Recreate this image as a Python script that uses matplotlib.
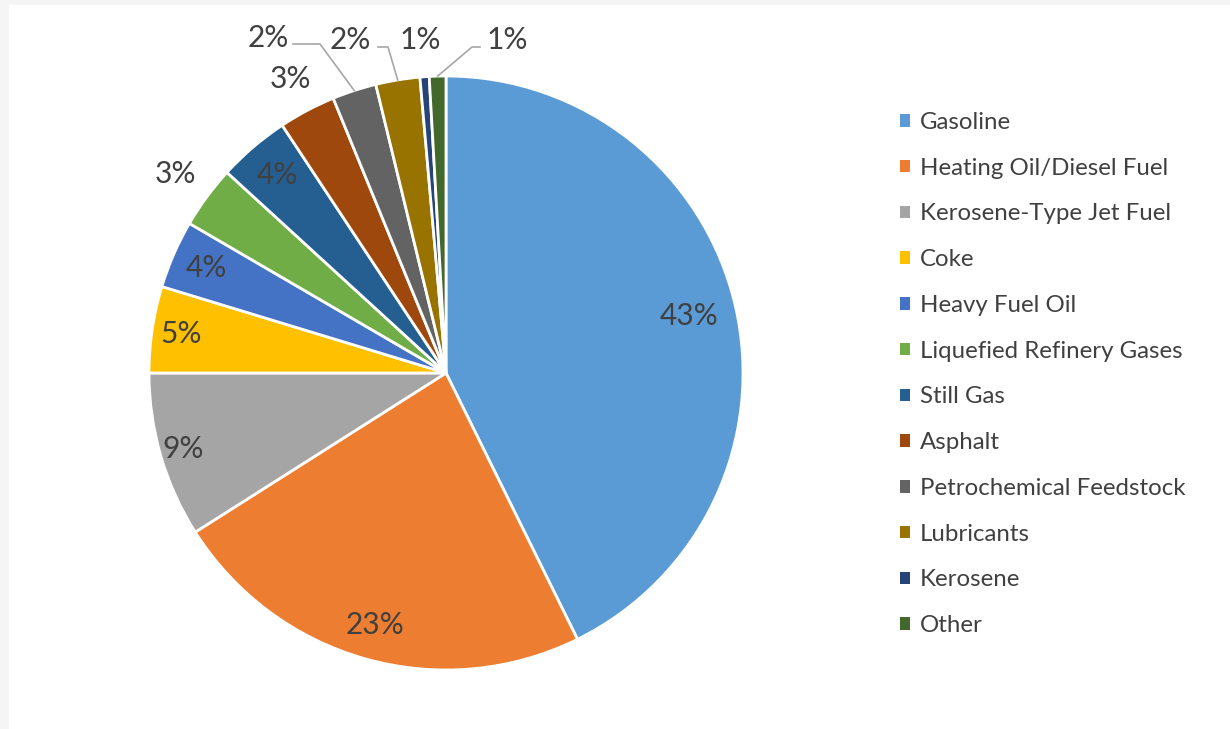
import numpy as np
import matplotlib.pyplot as plt
from matplotlib.patches import Rectangle

# refinery product shares (%)
products = ["Gasoline", "Heating Oil/Diesel Fuel", "Kerosene-Type Jet Fuel", "Coke",
            "Heavy Fuel Oil", "Liquefied Refinery Gases", "Still Gas", "Asphalt",
            "Petrochemical Feedstock", "Lubricants", "Kerosene", "Other"]
shares = [42.7, 23.3, 9.0, 4.7, 3.7, 3.4, 3.9, 3.1, 2.4, 2.4, 0.5, 0.9]
pct_labels = ["43%", "23%", "9%", "5%", "4%", "3%", "4%", "3%", "2%", "2%", "1%", "1%"]
colors = ["#5B9BD5", "#ED7D31", "#A5A5A5", "#FFC000", "#4472C4", "#70AD47",
          "#255E91", "#9E480E", "#636363", "#997300", "#264478", "#43682B"]

plt.rcParams['font.family'] = ['Lato', 'DejaVu Sans']
text_color = "#404040"
label_fs = 21.5

W, H = 1230, 729
fig = plt.figure(figsize=(W / 100, H / 100), dpi=100, facecolor="#F5F5F5")
ax = fig.add_axes([0, 0, 1, 1])
ax.add_patch(Rectangle((9, 0), W - 9, H - 5, facecolor="white", edgecolor="none", zorder=0))

cx, cy, R = 446, H - 373, 297
wedges, _ = ax.pie(shares, colors=colors, startangle=90, counterclock=False,
                   center=(cx, cy), radius=R, frame=True,
                   wedgeprops=dict(edgecolor="white", linewidth=2))
ax.set_xlim(0, W)
ax.set_ylim(0, H)
ax.set_aspect("equal")
ax.axis("off")

# label placement: inside (radial factor) or outside with leader (text position in px)
inside = {0: 0.84, 1: 0.88, 2: 0.92, 3: 0.90, 4: 0.88, 6: 0.875}
outside = {5: 1.13, 7: 1.12}
leaders = {8: (268, 38, [(293, 44), (320, 44)]),
           9: (350, 40, [(378, 47), (388, 47)]),
           10: (420, 40, []),
           11: (507, 40, [(480, 47), (472, 47)])}

for i, w in enumerate(wedges):
    mid = np.deg2rad((w.theta1 + w.theta2) / 2)
    if i in inside or i in outside:
        f = inside.get(i, outside.get(i))
        ax.text(cx + f * R * np.cos(mid), cy + f * R * np.sin(mid), pct_labels[i],
                ha="center", va="center", fontsize=label_fs, color=text_color)
    else:
        tx, ty, pts = leaders[i]
        ax.text(tx, H - ty, pct_labels[i], ha="center", va="center",
                fontsize=label_fs, color=text_color)
        if pts:
            ex, ey = cx + R * np.cos(mid), cy + R * np.sin(mid)
            xs = [p[0] for p in pts] + [ex]
            ys = [H - p[1] for p in pts] + [ey]
            ax.plot(xs, ys, color="#A6A6A6", linewidth=1.2)

leg = ax.legend(wedges, products, loc="upper left", bbox_to_anchor=(900 / W, 1 - 112 / H),
                frameon=False, fontsize=17.3, handlelength=0.42, handleheight=0.42,
                handletextpad=0.4, labelspacing=1.03, borderpad=0, borderaxespad=0)
for t in leg.get_texts():
    t.set_color(text_color)
for h in leg.legend_handles:
    h.set_edgecolor("none")

fig.savefig("out.png", dpi=100, facecolor=fig.get_facecolor())
